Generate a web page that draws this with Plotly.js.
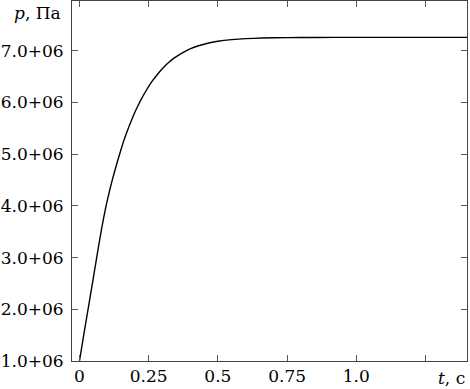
<!DOCTYPE html>
<html>
<head>
<meta charset="utf-8">
<script src="https://cdn.plot.ly/plotly-3.0.1.min.js"></script>
<style>html,body{margin:0;padding:0;background:#fff;}#chart{width:470px;height:389px;}</style>
</head>
<body>
<div id="chart"></div>
<script>
// time, s
const tValues = [0, 0.015, 0.031, 0.048, 0.065, 0.08, 0.096, 0.11, 0.12, 0.14, 0.16, 0.18, 0.20, 0.22, 0.24, 0.26, 0.28, 0.30, 0.32, 0.34, 0.36, 0.38, 0.40, 0.43, 0.46, 0.50, 0.55, 0.60, 0.66, 0.75, 0.85, 1.0, 1.2, 1.4];
// pressure, Pa
const pValues = [1.0e6, 1.49e6, 2.0e6, 2.54e6, 3.09e6, 3.56e6, 4.0e6, 4.32e6, 4.53e6, 4.91e6, 5.26e6, 5.55e6, 5.81e6, 6.03e6, 6.22e6, 6.39e6, 6.53e6, 6.655e6, 6.76e6, 6.85e6, 6.92e6, 6.98e6, 7.035e6, 7.095e6, 7.139e6, 7.181e6, 7.213e6, 7.232e6, 7.244e6, 7.252e6, 7.255e6, 7.257e6, 7.257e6, 7.257e6];

const xTickVals = [0, 0.25, 0.5, 0.75, 1.0, 1.25];
const xTickText = ["0", "0.25", "0.5", "0.75", "1.0", ""];
const yTickVals = [1e6, 2e6, 3e6, 4e6, 5e6, 6e6, 7e6];
const yTickText = ["1.0+06", "2.0+06", "3.0+06", "4.0+06", "5.0+06", "6.0+06", "7.0+06"];

const font = {family: "DejaVu Serif", size: 17, color: "#000"};

Plotly.newPlot("chart", [{
  x: tValues, y: pValues, type: "scatter", mode: "lines",
  line: {color: "#000", width: 1.4, shape: "spline", smoothing: 0.3},
  hoverinfo: "skip"
}], {
  width: 470, height: 389,
  margin: {l: 72, r: 3, t: 1, b: 28, pad: 0},
  paper_bgcolor: "#fff", plot_bgcolor: "#fff",
  showlegend: false,
  font: font,
  xaxis: {
    range: [-0.027, 1.4], tickvals: xTickVals, ticktext: xTickText,
    ticks: "inside", ticklen: 6, tickcolor: "#555", tickwidth: 1,
    showline: true, linecolor: "#444", linewidth: 1, mirror: "ticks",
    showgrid: false, zeroline: false, tickfont: font
  },
  yaxis: {
    range: [1e6, 7.96e6], tickvals: yTickVals, ticktext: yTickText,
    ticks: "inside", ticklen: 6, tickcolor: "#555", tickwidth: 1,
    showline: true, linecolor: "#444", linewidth: 1, mirror: "ticks",
    showgrid: false, zeroline: false, tickfont: font, ticklabelstandoff: 4
  },
  annotations: [
    {xref: "paper", yref: "paper", x: -0.0228, y: 0.967, xanchor: "right", yanchor: "middle",
     text: "<i>p</i>, Па", showarrow: false, font: font},
    {xref: "paper", yref: "paper", x: 1.0, y: -0.047, xanchor: "right", yanchor: "middle",
     text: "<i>t</i>, c", showarrow: false, font: font}
  ]
}, {staticPlot: true, displayModeBar: false});
</script>
</body>
</html>
